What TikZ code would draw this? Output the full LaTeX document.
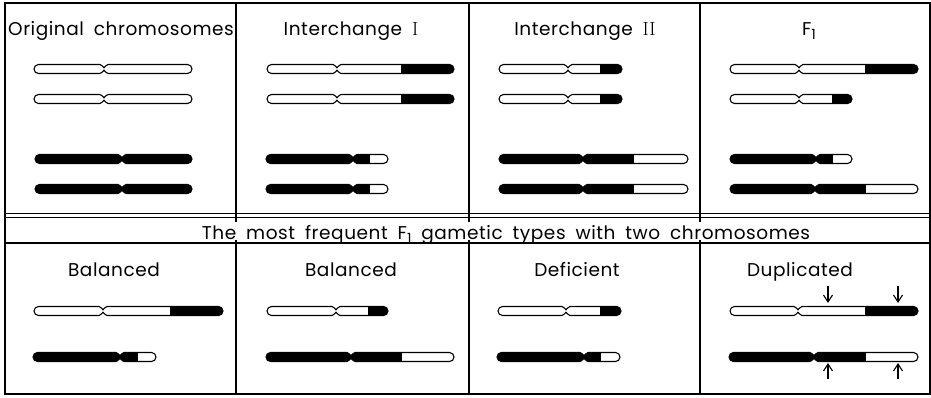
\documentclass[tikz,border=0pt]{standalone}
\usepackage{fontspec}
\newfontfamily\labelfont{Poppins}[LetterSpace=3,WordSpace=1.8]
\usetikzlibrary{arrows.meta}

% Outline of a chromosome: #1 = centre line y, #2 = left end, #3 = centromere, #4 = right end
\newcommand{\chrshape}[4]{%
  ({#2+4.5},{#1-4.5}) -- ({#3-4},{#1-4.5})
  .. controls ({#3-1.6},{#1-4.5}) and ({#3-0.7},{#1-1.1}) .. ({#3},{#1-1.1})
  .. controls ({#3+0.7},{#1-1.1}) and ({#3+1.6},{#1-4.5}) .. ({#3+4},{#1-4.5})
  -- ({#4-4.5},{#1-4.5}) arc[start angle=-90,end angle=90,radius=4.5]
  -- ({#3+4},{#1+4.5})
  .. controls ({#3+1.6},{#1+4.5}) and ({#3+0.7},{#1+1.1}) .. ({#3},{#1+1.1})
  .. controls ({#3-0.7},{#1+1.1}) and ({#3-1.6},{#1+4.5}) .. ({#3-4},{#1+4.5})
  -- ({#2+4.5},{#1+4.5}) arc[start angle=90,end angle=270,radius=4.5] -- cycle}

% Chromosome with a black segment from x=#5 to x=#6
\newcommand{\chromosome}[6]{%
  \fill[white] \chrshape{#1}{#2}{#3}{#4};
  \begin{scope}
    \clip \chrshape{#1}{#2}{#3}{#4};
    \fill[black] ({#5},{#1-7}) rectangle ({#6},{#1+7});
  \end{scope}
  \draw[chromline] \chrshape{#1}{#2}{#3}{#4};}

% subscript one and roman numerals in the labels
\newcommand{\subone}{\raisebox{-4pt}{\fontsize{14}{14}\selectfont 1}}
\newcommand{\numeral}[1]{{\rmfamily\fontsize{19}{20}\selectfont #1}}

\begin{document}
\begin{tikzpicture}[x=1pt,y=-1pt,
  frame/.style={line width=1.4pt},
  chromline/.style={line width=1.1pt,line join=round},
  title/.style={font=\labelfont\fontsize{18.5}{20}\selectfont,anchor=base,inner sep=0pt},
  pointer/.style={line width=1.1pt,-{Straight Barb[length=7pt,width=9pt]}}]
\useasboundingbox (0,0) rectangle (931,397);

% frame and panel rules
\draw[frame] (5,3) rectangle (930,394);
\draw[frame] (5,213.5) -- (930,213.5);
\draw[frame] (5,217.5) -- (930,217.5);
\draw[frame] (5,243) -- (930,243);
\foreach \x in {236,469,700} {
  \draw[frame] (\x,3) -- (\x,222);
  \draw[frame] (\x,240) -- (\x,394);
}

% panel titles
\node[title] (t1) at (121,35) {Original chromosomes};
\node[title] (t2) at (351,35) {Interchange \numeral{I}};
\node[title] (t3) at (585,35) {Interchange \numeral{II}};
\node[title] (t4) at (809,35) {F\subone};
\node[title] (cap) at (506,239) {The most frequent F\subone\ gametic types with two chromosomes};
\node[title] (b1) at (114,276) {Balanced};
\node[title] (b2) at (351,276) {Balanced};
\node[title] (b3) at (577,276) {Deficient};
\node[title] (b4) at (800,276) {Duplicated};

% original chromosomes
\chromosome{69}{34}{104}{192}{0}{0}
\chromosome{99}{34}{104}{192}{0}{0}
\chromosome{159}{35}{122}{192}{20}{200}
\chromosome{189}{35}{122}{192}{20}{200}

% interchange I
\chromosome{69}{267}{337}{454}{401}{460}
\chromosome{99}{267}{337}{454}{401}{460}
\chromosome{159}{266}{353}{388}{255}{370}
\chromosome{189}{266}{353}{388}{255}{370}

% interchange II
\chromosome{69}{499}{568}{622}{600}{630}
\chromosome{99}{499}{568}{622}{600}{630}
\chromosome{159}{499}{583}{688}{490}{634}
\chromosome{189}{499}{583}{688}{490}{634}

% F1
\chromosome{69}{730}{799}{918}{865}{925}
\chromosome{99}{730}{799}{852}{832}{860}
\chromosome{159}{730}{816}{852}{720}{833}
\chromosome{189}{730}{815}{918}{720}{866}

% gametes
\chromosome{311}{34}{103}{223}{170}{230}
\chromosome{357}{33}{120}{156}{25}{138}
\chromosome{311}{267}{336}{388}{368}{395}
\chromosome{357}{266}{351}{454}{255}{402}
\chromosome{311}{498}{566}{621}{600}{630}
\chromosome{357}{497}{584}{620}{490}{601}
\chromosome{311}{730}{798}{918}{865}{925}
\chromosome{357}{729}{814}{918}{720}{866}

% duplication markers
\coordinate (p1s) at (828,286); \coordinate (p1e) at (828,303);
\coordinate (p2s) at (898,286); \coordinate (p2e) at (898,303);
\coordinate (p3s) at (828,379); \coordinate (p3e) at (828,363);
\coordinate (p4s) at (898,379); \coordinate (p4e) at (898,363);
\draw[pointer] (p1s) -- (p1e);
\draw[pointer] (p2s) -- (p2e);
\draw[pointer] (p3s) -- (p3e);
\draw[pointer] (p4s) -- (p4e);
\end{tikzpicture}
\end{document}
